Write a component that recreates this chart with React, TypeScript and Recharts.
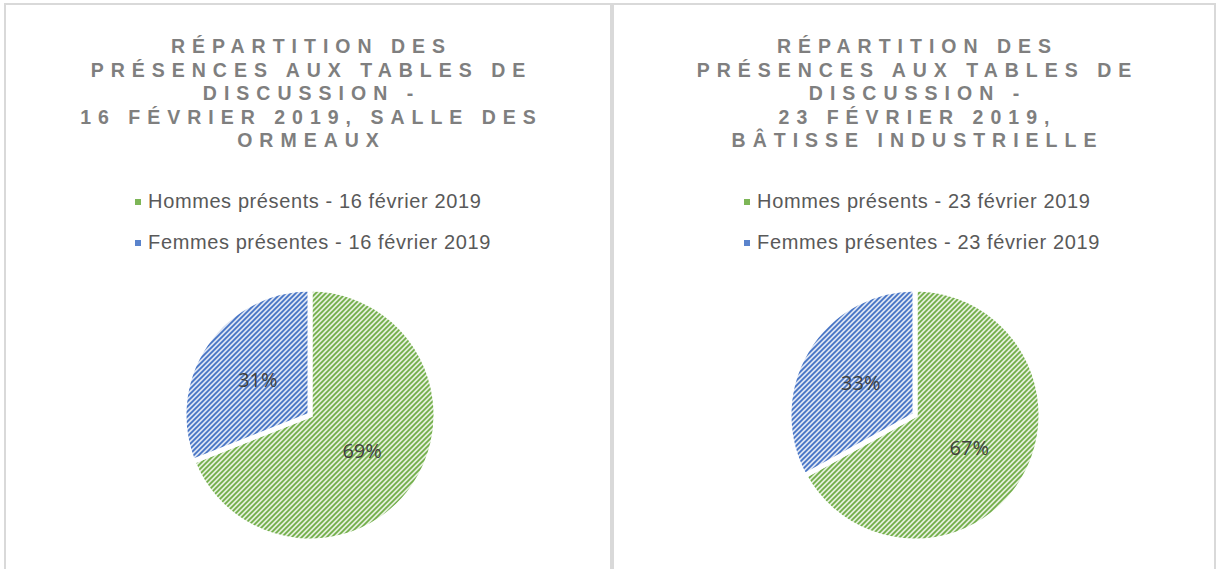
import React from 'react';
import { PieChart, Pie, Cell, Legend } from 'recharts';

// categories / values (percent of attendance)
const leftCategories = ['Hommes présents - 16 février 2019', 'Femmes présentes - 16 février 2019'];
const leftValues = [69, 31];
const rightCategories = ['Hommes présents - 23 février 2019', 'Femmes présentes - 23 février 2019'];
const rightValues = [67, 33];

const leftTitle = ['RÉPARTITION DES', 'PRÉSENCES AUX TABLES DE', 'DISCUSSION -', '16 FÉVRIER 2019, SALLE DES', 'ORMEAUX'];
const rightTitle = ['RÉPARTITION DES', 'PRÉSENCES AUX TABLES DE', 'DISCUSSION -', '23 FÉVRIER 2019,', 'BÂTISSE INDUSTRIELLE'];

const SERIES = [
  { line: '#70AD47', bg: '#E3EFDA', swatch: '#7DB657' },
  { line: '#4472C4', bg: '#DAE3F3', swatch: '#5A83CC' },
];

const RAD = Math.PI / 180;

function renderPct(props: any) {
  const { cx, cy, midAngle, outerRadius, percent } = props;
  const r = outerRadius * 0.5;
  const x = cx + r * Math.cos(-midAngle * RAD);
  const y = cy + r * Math.sin(-midAngle * RAD);
  return (
    <text x={x} y={y} fill="#404040" textAnchor="middle" dominantBaseline="central"
      style={{ fontFamily: '"Open Sans", sans-serif', fontSize: 20 }}>
      {Math.round(percent * 100)}%
    </text>
  );
}

function makeLegend(categories: string[], shift: number) {
  return function LegendBox(props: any) {
    const { payload } = props;
    const items = [...payload].sort((a: any, b: any) => categories.indexOf(a.value) - categories.indexOf(b.value));
    return (
      <div style={{ display: 'flex', justifyContent: 'center', paddingLeft: shift }}>
        <div style={{ display: 'flex', flexDirection: 'column', alignItems: 'flex-start' }}>
          {items.map((p: any) => {
            const i = categories.indexOf(p.value);
            return (
              <div key={p.value} style={{ display: 'flex', alignItems: 'center', height: 41 }}>
                <span style={{ width: 6, height: 6, background: SERIES[i].swatch, marginRight: 7, display: 'inline-block' }} />
                <span style={{ fontFamily: '"Liberation Sans", Arial, sans-serif', fontSize: 20, letterSpacing: 0.6, color: '#595959' }}>
                  {p.value}
                </span>
              </div>
            );
          })}
        </div>
      </div>
    );
  };
}

function Panel({ id, left, width, cx, title, categories, values, shift }: any) {
  const data = categories.map((c: string, i: number) => ({ name: c, value: values[i] }));
  const LegendBox = makeLegend(categories, shift);
  return (
    <div style={{ position: 'absolute', left, top: 3, width, height: 580, border: '2px solid #D9D9D9', boxSizing: 'border-box', background: '#fff' }}>
      <div style={{ position: 'absolute', left: 0, top: 30, width: '100%', textAlign: 'center', paddingLeft: 7, boxSizing: 'border-box',
        fontFamily: '"Liberation Sans", Arial, sans-serif', fontWeight: 700, fontSize: 19.5, letterSpacing: 7, lineHeight: '23.5px', color: '#7F7F7F' }}>
        {title.map((t: string, i: number) => <div key={i}>{t}</div>)}
      </div>
      <div style={{ position: 'absolute', left: -2, top: -5 }}>
        <PieChart width={width} height={575} margin={{ top: 0, right: 0, bottom: 0, left: 0 }}>
          <defs>
            {SERIES.map((s, i) => (
              <pattern key={i} id={`${id}-p${i}`} patternUnits="userSpaceOnUse" width="5" height="5">
                <rect width="5" height="5" fill={s.bg} />
                <path d="M-1,1 L1,-1 M0,5 L5,0 M4,6 L6,4" stroke={s.line} strokeWidth="1.7" />
              </pattern>
            ))}
          </defs>
          <Pie data={data} dataKey="value" nameKey="name" cx={cx} cy={415} outerRadius={126}
            startAngle={90} endAngle={-270} stroke="#fff" strokeWidth={5}
            label={renderPct} labelLine={false} isAnimationActive={false}>
            {data.map((_: any, i: number) => <Cell key={i} fill={`url(#${id}-p${i})`} />)}
          </Pie>
          <Legend layout="vertical" align="center" verticalAlign="middle" content={<LegendBox />}
            wrapperStyle={{ top: 181, left: 0, width: width }} />
        </PieChart>
      </div>
    </div>
  );
}

export default function App() {
  return (
    <div style={{ position: 'absolute', left: 0, top: 0, width: 1217, height: 569, background: '#fff', overflow: 'hidden' }}>
      <Panel id="l" left={4} width={608} cx={306} shift={10} title={leftTitle} categories={leftCategories} values={leftValues} />
      <Panel id="r" left={612} width={604} cx={303} shift={16} title={rightTitle} categories={rightCategories} values={rightValues} />
    </div>
  );
}
